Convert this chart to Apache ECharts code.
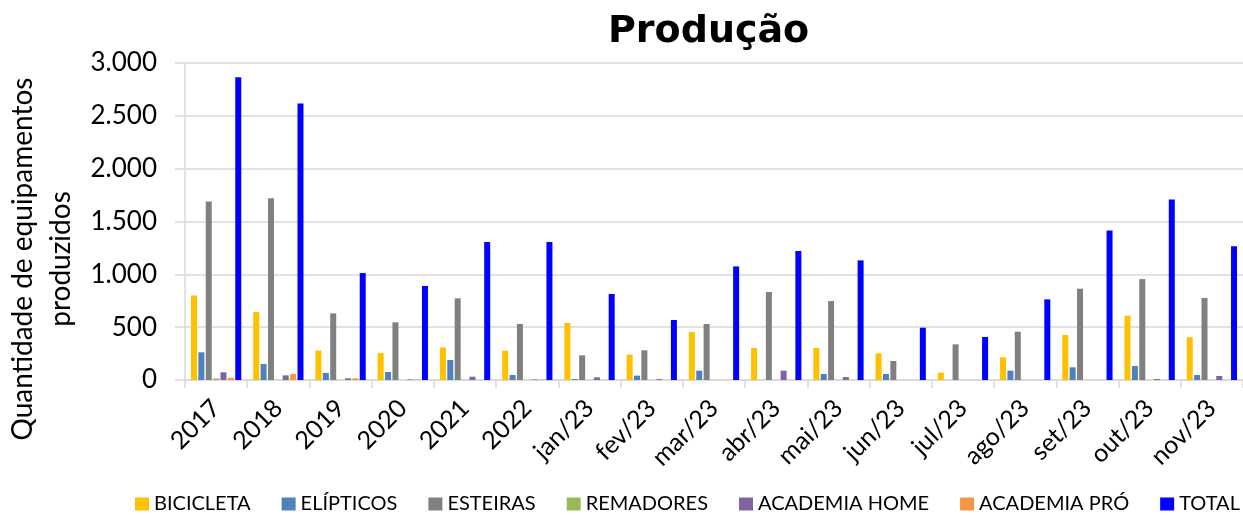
<!DOCTYPE html>
<html>
<head>
<meta charset="utf-8">
<script src="https://cdn.jsdelivr.net/npm/echarts@6/dist/echarts.min.js"></script>
<style>
  html, body { margin: 0; padding: 0; background: #fff; }
  #chart { width: 1243px; height: 515px; }
</style>
</head>
<body>
<div id="chart"></div>
<script>
const categories = ['2017','2018','2019','2020','2021','2022','jan/23','fev/23','mar/23','abr/23','mai/23','jun/23','jul/23','ago/23','set/23','out/23','nov/23'];
const bicicleta  = [800, 643, 278, 255, 308, 278, 539, 240, 454, 303, 303, 252, 69, 214, 426, 609, 404];
const elipticos  = [262, 151, 66, 76, 189, 47, 9, 41, 88, 0, 57, 57, 0, 88, 120, 132, 47];
const esteiras   = [1690, 1719, 631, 546, 773, 530, 233, 281, 530, 833, 747, 180, 337, 457, 864, 955, 776];
const remadores  = [15, 0, 0, 0, 0, 0, 0, 0, 0, 0, 0, 0, 0, 0, 0, 0, 0];
const academiaHome = [73, 44, 16, 5, 31, 5, 25, 8, 0, 88, 28, 0, 0, 0, 0, 9, 38];
const academiaPro  = [22, 57, 16, 5, 0, 4, 0, 0, 0, 0, 0, 0, 0, 0, 0, 0, 0];
const total      = [2864, 2617, 1012, 890, 1306, 1306, 814, 568, 1075, 1220, 1132, 495, 407, 763, 1416, 1709, 1265];
const yTicks = { min: 0, max: 3000, interval: 500 };

const seriesDefs = [
  { name: 'BICICLETA', data: bicicleta, color: '#FFC000' },
  { name: 'ELÍPTICOS', data: elipticos, color: '#4F81BD' },
  { name: 'ESTEIRAS', data: esteiras, color: '#808080' },
  { name: 'REMADORES', data: remadores, color: '#9BBB59' },
  { name: 'ACADEMIA HOME', data: academiaHome, color: '#8064A2' },
  { name: 'ACADEMIA PRÓ', data: academiaPro, color: '#F79646' },
  { name: 'TOTAL', data: total, color: '#0000FF' }
];

const chart = echarts.init(document.getElementById('chart'), null, { renderer: 'canvas' });
const labelFont = 'Lato';
chart.setOption({
  animation: false,
  backgroundColor: '#ffffff',
  title: {
    text: 'Produção',
    left: 603,
    top: 8,
    textStyle: { fontFamily: 'DejaVu Sans', fontWeight: 'bold', fontSize: 38, color: '#000' }
  },
  legend: {
    left: 135,
    top: 494,
    width: 1200,
    padding: 0,
    icon: 'rect',
    itemWidth: 14,
    itemHeight: 13,
    itemGap: 31,
    textStyle: { fontFamily: labelFont, fontSize: 20, color: '#000' },
    data: seriesDefs.map(s => s.name)
  },
  grid: { left: 185, top: 63, right: -6, bottom: 135, containLabel: false },
  xAxis: {
    type: 'category',
    data: categories,
    axisLine: { lineStyle: { color: '#D9D9D9', width: 1.5 } },
    axisTick: { show: true, length: 8, alignWithLabel: false, lineStyle: { color: '#D9D9D9', width: 1.5 } },
    axisLabel: { interval: 0, rotate: 45, margin: 24, fontFamily: labelFont, fontSize: 25, color: '#000' }
  },
  yAxis: {
    type: 'value',
    min: yTicks.min, max: yTicks.max, interval: yTicks.interval,
    axisLine: { show: true, lineStyle: { color: '#D9D9D9', width: 1.5 } },
    axisTick: { show: true, length: 10, lineStyle: { color: '#D9D9D9', width: 1.5 } },
    splitLine: { lineStyle: { color: '#D9D9D9', width: 1.5 } },
    axisLabel: {
      margin: 28, fontFamily: labelFont, fontSize: 26, color: '#000',
      formatter: v => String(v).replace(/\B(?=(\d{3})+(?!\d))/g, '.')
    }
  },
  graphic: [{
    type: 'text',
    x: 42, y: 259,
    rotation: Math.PI / 2,
    style: {
      text: 'Quantidade de equipamentos\nproduzidos',
      font: '28px Lato',
      fill: '#000',
      align: 'center',
      verticalAlign: 'middle',
      lineHeight: 38
    }
  }],
  series: seriesDefs.map(s => ({
    name: s.name,
    type: 'bar',
    data: s.data,
    barWidth: 6,
    barGap: '23%',
    itemStyle: { color: s.color }
  }))
});
</script>
</body>
</html>
